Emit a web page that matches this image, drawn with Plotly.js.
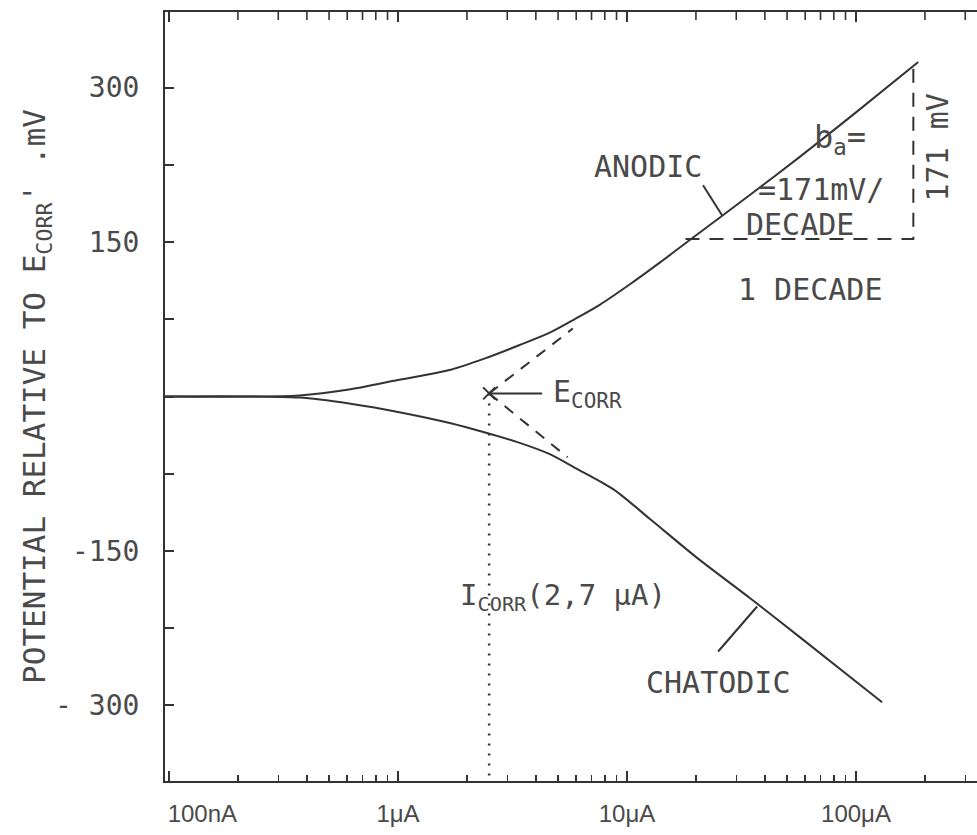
<!DOCTYPE html>
<html>
<head>
<meta charset="utf-8">
<script src="https://cdn.plot.ly/plotly-3.0.1.min.js"></script>
<style>html,body{margin:0;padding:0;background:#fff;}#chart{width:977px;height:835px;}</style>
</head>
<body>
<div id="chart"></div>
<script>
// ---- data (current in µA, potential in mV vs Ecorr) ----
const currentAnodic   = [0.096, 0.37, 0.62, 1.0, 1.7, 2.4, 3.4, 4.6, 5.9, 7.6, 10.3, 13.9, 18.8, 34.5, 57, 100, 187];
const potentialAnodic = [0, 1, 7, 16, 26, 37, 50, 62, 75, 89, 109, 130, 152, 196, 233, 276, 325];

const currentCathodic   = [0.096, 0.37, 0.62, 1.0, 1.7, 2.4, 3.4, 4.6, 5.9, 8.7, 12.6, 20.3, 34.5, 57, 130];
const potentialCathodic = [0, -1, -7, -15, -26, -35, -45, -56, -69, -90, -119, -157, -196, -234, -297];

const anodicTafelCurrent   = [2.5, 5.8];
const anodicTafelPotential = [3, 66];
const cathodicTafelCurrent   = [2.5, 5.5];
const cathodicTafelPotential = [3, -59];

const icorrCurrent   = [2.5, 2.5];
const icorrPotential = [3, -374];
const ecorrCurrent   = [2.5];
const ecorrPotential = [3];

const decadeCurrent   = [18, 178, 178];
const decadePotential = [153, 153, 324];

// label anchor points on the curves
const anodicLabelPoint   = [26, 176];
const cathodicLabelPoint = [37, -204];

const xTickVals = [0.1, 1, 10, 100];
const xTickText = ['\u00a0\u00a0\u00a0\u00a0\u00a0\u00a0\u00a0\u00a0\u00a0\u00a0100nA', '1μA', '10μA', '100μA'];
const xMinorTickVals = [0.2, 0.3, 0.4, 0.5, 0.6, 0.7, 0.8, 0.9,
                        2, 3, 4, 5, 6, 7, 8, 9,
                        20, 30, 40, 50, 60, 70, 80, 90,
                        200, 300];
const yTickVals = [-300, -150, 150, 300];
const yTickText = ['- 300', '-150', '150', '300'];

// ---- styling ----
const ink = '#333';
const txt = '#4a4a4a';
const mono = 'DejaVu Sans Mono, monospace';
const fs = 30;
const xRange = [-1.0175, 2.5284];
const yRange = [-373.5, 373.5];
const plotHeightPx = 835 - 12 - 54;
const mvPerPx = (yRange[1] - yRange[0]) / plotHeightPx;

// top frame ticks (mirror of bottom ticks), built from the tick value arrays
function topTicks(vals, lenPx) {
  const xs = [], ys = [];
  vals.forEach(v => { xs.push(v, v, null); ys.push(yRange[1], yRange[1] - lenPx * mvPerPx, null); });
  return {x: xs, y: ys};
}
const topMajor = topTicks(xTickVals, 10);
const topMinor = topTicks(xMinorTickVals, 8);

const traces = [
  {x: currentAnodic, y: potentialAnodic, mode: 'lines', line: {color: ink, width: 2, shape: 'spline', smoothing: 0.8}},
  {x: currentCathodic, y: potentialCathodic, mode: 'lines', line: {color: ink, width: 2, shape: 'spline', smoothing: 0.8}},
  {x: anodicTafelCurrent, y: anodicTafelPotential, mode: 'lines', line: {color: ink, width: 2, dash: '11px,9px'}},
  {x: cathodicTafelCurrent, y: cathodicTafelPotential, mode: 'lines', line: {color: ink, width: 2, dash: '11px,9px'}},
  {x: icorrCurrent, y: icorrPotential, xaxis: 'x2', mode: 'lines', line: {color: ink, width: 2.5, dash: '2px,8px'}},
  {x: decadeCurrent, y: decadePotential, mode: 'lines', line: {color: ink, width: 2, dash: '14px,10px'}},
  {x: ecorrCurrent, y: ecorrPotential, mode: 'markers', marker: {symbol: 'x-thin-open', size: 12, color: ink, line: {color: ink, width: 2}}},
  {x: topMajor.x, y: topMajor.y, mode: 'lines', line: {color: ink, width: 2}, connectgaps: false},
  {x: topMinor.x, y: topMinor.y, mode: 'lines', line: {color: ink, width: 1.6}, connectgaps: false}
];

function at(I, E, text, extra) {
  return Object.assign({x: Math.log10(I), y: E, xref: 'x', yref: 'y', text: text, showarrow: false,
    font: {family: mono, size: fs, color: txt}}, extra || {});
}
function pointer(I, E, text, ax, ay, extra) {
  return Object.assign({x: Math.log10(I), y: E, xref: 'x', yref: 'y', text: text, showarrow: true,
    arrowhead: 0, arrowwidth: 2, arrowcolor: ink, ax: ax, ay: ay, standoff: 0,
    font: {family: mono, size: fs, color: txt}}, extra || {});
}

const annotations = [
  pointer(anodicLabelPoint[0], anodicLabelPoint[1], 'ANODIC', -19, -30,
          {xanchor: 'right', yanchor: 'bottom', borderpad: 0}),
  at(85, 250, 'b<sub>a</sub>=', {font: {family: mono, size: 32, color: txt}}),
  at(70, 201, '=171mV/'),
  at(57, 167, 'DECADE'),
  at(63, 104, '1 DECADE'),
  at(226, 242, '171 mV', {textangle: -90}),
  pointer(ecorrCurrent[0], ecorrPotential[0], 'E<sub>CORR</sub>', 53, 0,
          {xanchor: 'left', yanchor: 'middle', borderpad: 10}),
  at(5.25, -195, 'I<sub>CORR</sub>(2,7 μA)', {font: {family: mono, size: 29, color: txt}}),
  pointer(cathodicLabelPoint[0], cathodicLabelPoint[1], 'CHATODIC', -39, 45,
          {xanchor: 'center', yanchor: 'top', borderpad: 12})
];

const layout = {
  width: 977, height: 835,
  margin: {l: 165, r: 0, t: 12, b: 54},
  paper_bgcolor: '#fff', plot_bgcolor: '#fff',
  showlegend: false,
  xaxis: {
    type: 'log', range: xRange,
    tickvals: xTickVals, ticktext: xTickText,
    ticks: 'inside', ticklen: 10, tickwidth: 2, tickcolor: ink,
    showline: true, linecolor: ink, linewidth: 2, mirror: true,
    showgrid: false, zeroline: false,
    tickfont: {family: 'Liberation Sans, Arial, sans-serif', size: 24, color: txt},
    ticklabelstandoff: 10
  },
  xaxis2: {
    type: 'log', range: xRange, overlaying: 'x', anchor: 'y', side: 'bottom',
    tickvals: xMinorTickVals, showticklabels: false,
    ticks: 'inside', ticklen: 6, tickwidth: 1.5, tickcolor: ink,
    showline: false, showgrid: false, zeroline: false
  },
  yaxis: {
    range: yRange,
    tickvals: yTickVals, ticktext: yTickText,
    ticks: 'inside', ticklen: 9, tickwidth: 2, tickcolor: ink,
    minor: {dtick: 75, tick0: 0, ticks: 'inside', ticklen: 9, tickwidth: 2, tickcolor: ink, showgrid: false},
    showline: true, linecolor: ink, linewidth: 2, mirror: false,
    showgrid: false, zeroline: false,
    tickfont: {family: mono, size: 28, color: txt},
    ticklabelstandoff: 18,
    title: {text: "POTENTIAL RELATIVE TO E<sub>CORR</sub>' .mV", font: {family: mono, size: 31, color: txt}, standoff: 0}
  },
  annotations: annotations
};

Plotly.newPlot('chart', traces, layout, {staticPlot: true, displayModeBar: false});
</script>
</body>
</html>
